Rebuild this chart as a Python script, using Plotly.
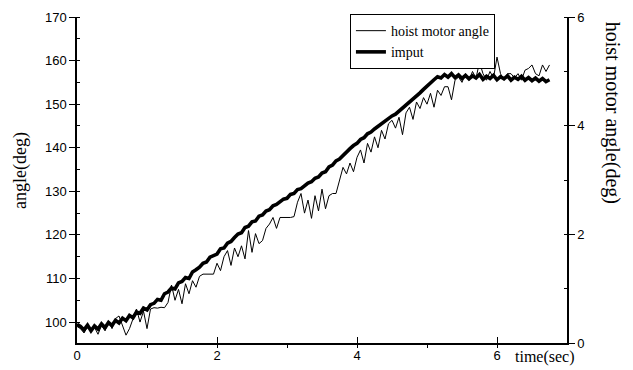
import plotly.graph_objects as go

time_s = [round(i * 0.05, 2) for i in range(136)]

imput = [
    99.5, 99.0, 98.2, 99.3, 98.0, 99.1, 98.4, 99.6, 98.7, 99.9,
    99.2, 100.4, 99.8, 100.9, 100.3, 101.5, 101.0, 102.3, 102.0, 103.2,
    102.8, 104.0, 104.3, 105.2, 105.0, 106.5, 106.9, 107.8, 107.6, 109.0,
    109.3, 110.2, 110.0, 111.5, 112.0, 112.6, 113.5, 113.8, 114.9, 115.3,
    115.6, 116.8, 117.0, 118.1, 118.5, 119.4, 120.2, 120.5, 121.7, 122.0,
    123.0, 123.2, 124.3, 124.6, 125.5, 125.8, 126.7, 127.0, 127.5, 128.2,
    128.4, 129.3, 129.5, 130.4, 130.6, 131.3, 131.9, 132.2, 133.0, 133.3,
    134.2, 134.5, 135.6, 136.0, 137.0, 137.4, 138.3, 139.0, 139.8, 140.5,
    141.0, 141.9, 142.3, 143.2, 143.6, 144.3, 144.9, 145.4, 146.2, 146.6,
    147.3, 147.7, 148.4, 148.9, 149.6, 150.4, 151.0, 151.9, 152.6, 153.4,
    154.2, 155.0, 155.6, 156.3, 156.0, 156.8, 156.2, 157.0, 156.1, 156.7,
    155.9, 156.6, 155.8, 156.5, 156.0, 156.8, 155.7, 156.4, 155.9, 156.6,
    155.6, 156.3, 155.8, 156.5, 155.5, 156.2, 155.7, 156.4, 155.5, 156.1,
    155.4, 156.0, 155.3, 155.9, 155.2, 155.6,
]

hoist = [
    99.0, 98.5, 97.5, 99.0, 97.8, 98.8, 97.2, 99.2, 98.0, 100.2,
    98.5, 100.8, 101.4, 99.0, 97.0, 98.5, 101.0, 103.0, 100.0, 102.5,
    98.5, 103.0, 103.3, 103.2, 103.4, 103.3, 104.5, 108.5, 105.0, 107.5,
    104.2, 108.8, 106.5, 109.5, 108.0, 110.5, 111.0, 111.0, 111.1, 111.0,
    113.5, 111.8, 115.0, 116.4, 113.0, 117.0, 115.0, 117.5, 114.5, 121.0,
    116.0, 120.3, 118.0, 118.7, 121.5, 122.5, 124.0, 121.5, 124.0, 124.0,
    124.1, 124.0, 124.2, 127.5, 129.5, 125.0, 128.0, 123.8, 129.0, 125.5,
    130.5, 126.0, 129.0, 129.5, 129.5, 132.5, 135.5, 134.0, 136.5, 134.5,
    137.8, 139.5, 136.5, 141.0, 139.0, 142.5, 140.0, 144.0, 142.0, 145.5,
    146.3, 144.5, 147.0, 143.0, 148.0, 149.3, 146.5, 150.5, 149.0, 151.5,
    150.0, 152.5, 149.3, 153.2, 152.0, 154.0, 154.0, 151.0, 155.5, 156.2,
    155.0, 157.0, 155.5, 157.5, 156.0, 159.6, 157.0, 155.5, 157.5, 156.0,
    160.8, 157.0, 155.5, 157.0, 157.0, 156.0, 157.0, 155.5, 157.8, 158.2,
    159.0, 157.0, 156.5, 159.0, 157.5, 159.0,
]

x_ticks = [0, 2, 4, 6]
y_ticks = [100, 110, 120, 130, 140, 150, 160, 170]
y2_ticks = [0, 2, 4, 6]

serif = "Liberation Serif"
sans = "Liberation Sans"

fig = go.Figure()
fig.add_trace(go.Scatter(x=time_s, y=hoist, mode="lines", name="hoist motor angle",
                         line=dict(color="black", width=1)))
fig.add_trace(go.Scatter(x=time_s, y=imput, mode="lines", name="imput",
                         line=dict(color="black", width=3.6)))
# empty trace so the right-hand axis is drawn
fig.add_trace(go.Scatter(x=[], y=[], yaxis="y2", showlegend=False, hoverinfo="skip"))

fig.update_layout(
    width=633, height=370,
    margin=dict(l=77, r=66, t=17, b=27, autoexpand=False),
    paper_bgcolor="white", plot_bgcolor="white",
    showlegend=True,
    legend=dict(x=0.557, y=1.009, xanchor="left", yanchor="top",
                bordercolor="black", borderwidth=1, bgcolor="white",
                font=dict(family=serif, size=14, color="black"),
                tracegroupgap=0),
    xaxis=dict(range=[0, 7.0], tickvals=x_ticks, ticks="inside", ticklen=6,
               tickcolor="black", showgrid=False, zeroline=False, automargin=False,
               showline=True, linecolor="black", linewidth=1.5,
               minor=dict(dtick=1, ticks="outside", ticklen=3, tickcolor="black"),
               tickfont=dict(family=sans, size=13, color="black")),
    yaxis=dict(range=[95.2, 170], tickvals=y_ticks, ticks="outside", ticklen=6,
               tickcolor="black", showgrid=False, zeroline=False, automargin=False,
               showline=True, linecolor="black", linewidth=1.5,
               minor=dict(dtick=5, ticks="inside", ticklen=3, tickcolor="black"),
               tickfont=dict(family=sans, size=13, color="black")),
    yaxis2=dict(range=[0, 6], tickvals=y2_ticks, ticks="outside", ticklen=6,
                tickcolor="black", overlaying="y", side="right", anchor="x",
                showgrid=False, zeroline=False, showline=True, automargin=False,
                linecolor="black", linewidth=1.5,
                minor=dict(dtick=1, ticks="inside", ticklen=3, tickcolor="black"),
                tickfont=dict(family=sans, size=13, color="black")),
    annotations=[
        dict(text="angle(deg)", xref="paper", yref="paper", x=-0.114, y=0.528,
             xanchor="center", yanchor="middle", textangle=-90, showarrow=False,
             font=dict(family=serif, size=18, color="black")),
        dict(text="hoist motor angle(deg)", xref="paper", yref="paper", x=1.092, y=0.706,
             xanchor="center", yanchor="middle", textangle=90, showarrow=False,
             font=dict(family=serif, size=20, color="black")),
        dict(text="time(sec)", xref="paper", yref="paper", x=0.89, y=0,
             xanchor="left", yanchor="top", yshift=-3, showarrow=False,
             font=dict(family=serif, size=16, color="black")),
    ],
)
fig.write_html("out.html", config={"displayModeBar": False},
               post_script="document.body.style.margin='0';document.body.style.overflow='hidden';")
